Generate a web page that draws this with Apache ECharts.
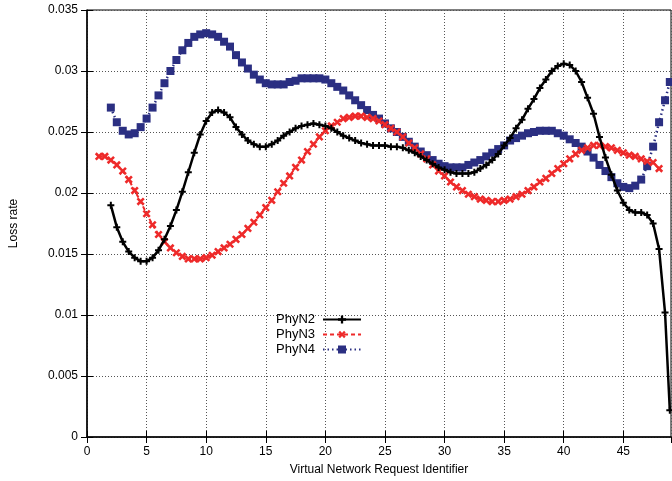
<!DOCTYPE html>
<html style="height: 100%">
<head>
  <meta charset="utf-8">
</head>
<body style="height: 100%; margin: 0; background: #fff">
  <div id="container" style="width: 672px; height: 481px"></div>
  <script type="text/javascript" src="https://cdn.jsdelivr.net/npm/echarts@6/dist/echarts.min.js"></script>
  <script>
// sample positions: 0.5 apart, plus the last sample where a curve leaves the frame
function xs(from, to, extra) {
  var out = [];
  for (var x = from; x <= to + 1e-9; x += 0.5) out.push(x);
  if (extra !== undefined) out.push(extra);
  return out;
}
var xPhyN2 = xs(2, 48.5, 48.9);
var xPhyN3 = xs(1, 48);
var xPhyN4 = xs(2, 48.5, 48.9);

var phyN2 = [
  0.0190, 0.0172, 0.0160, 0.0152, 0.0147, 0.0144, 0.0144, 0.0147, 0.0153, 0.0162,
  0.0173, 0.0186, 0.0201, 0.0217, 0.0233, 0.0248, 0.0259, 0.0266, 0.0268, 0.0266,
  0.0262, 0.0254, 0.0248, 0.0243, 0.0240, 0.0238, 0.0238, 0.0240, 0.0243, 0.0247,
  0.0250, 0.0253, 0.0255, 0.0256, 0.0257, 0.0256, 0.0255, 0.0253, 0.0250, 0.0247,
  0.0245, 0.0243, 0.0241, 0.0240, 0.0239, 0.0239, 0.0239, 0.0238, 0.0238, 0.0237,
  0.0235, 0.0233, 0.0230, 0.0227, 0.0224, 0.0221, 0.0219, 0.0217, 0.0216, 0.0216,
  0.0216, 0.0217, 0.0220, 0.0223, 0.0227, 0.0232, 0.0239, 0.0245, 0.0253, 0.0260,
  0.0269, 0.0277, 0.0286, 0.0293, 0.0300, 0.0304, 0.0306, 0.0305, 0.0300, 0.0291,
  0.0278, 0.0265, 0.0246, 0.0229, 0.0215, 0.0202, 0.0192, 0.0186, 0.0184, 0.0184,
  0.0182, 0.0175, 0.0154, 0.0102, 0.0022
];
var phyN3 = [
  0.0230, 0.0230, 0.0227, 0.0223, 0.0218, 0.0211, 0.0202, 0.0193, 0.0183, 0.0174,
  0.0166, 0.0160, 0.0155, 0.0151, 0.0148, 0.0146, 0.0146, 0.0146, 0.0147, 0.0149,
  0.0152, 0.0155, 0.0158, 0.0162, 0.0166, 0.0171, 0.0176, 0.0182, 0.0188, 0.0194,
  0.0201, 0.0208, 0.0214, 0.0221, 0.0227, 0.0234, 0.0240, 0.0246, 0.0251, 0.0255,
  0.0258, 0.0261, 0.0262, 0.0263, 0.0263, 0.0262, 0.0261, 0.0259, 0.0256, 0.0253,
  0.0250, 0.0246, 0.0241, 0.0237, 0.0232, 0.0228, 0.0223, 0.0218, 0.0214, 0.0209,
  0.0205, 0.0202, 0.0199, 0.0197, 0.0195, 0.0194, 0.0193, 0.0193, 0.0194, 0.0195,
  0.0197, 0.0199, 0.0202, 0.0205, 0.0209, 0.0212, 0.0216, 0.0220, 0.0224, 0.0228,
  0.0232, 0.0235, 0.0237, 0.0239, 0.0239, 0.0238, 0.0237, 0.0235, 0.0233, 0.0231,
  0.0230, 0.0228, 0.0226, 0.0225, 0.0220
];
var phyN4 = [
  0.0270, 0.0258, 0.0251, 0.0248, 0.0249, 0.0254, 0.0261, 0.0270, 0.0280, 0.0290,
  0.0300, 0.0309, 0.0317, 0.0323, 0.0328, 0.0330, 0.0331, 0.0330, 0.0328, 0.0324,
  0.0320, 0.0313, 0.0307, 0.0302, 0.0297, 0.0293, 0.0290, 0.0289, 0.0289, 0.0289,
  0.0291, 0.0292, 0.0294, 0.0294, 0.0294, 0.0294, 0.0293, 0.0290, 0.0287, 0.0284,
  0.0280, 0.0276, 0.0272, 0.0268, 0.0264, 0.0261, 0.0257, 0.0253, 0.0250, 0.0246,
  0.0242, 0.0238, 0.0234, 0.0231, 0.0227, 0.0224, 0.0222, 0.0221, 0.0221, 0.0221,
  0.0223, 0.0225, 0.0227, 0.0230, 0.0233, 0.0236, 0.0239, 0.0243, 0.0245, 0.0247,
  0.0249, 0.0250, 0.0251, 0.0251, 0.0251, 0.0249, 0.0247, 0.0244, 0.0241, 0.0238,
  0.0234, 0.0229, 0.0223, 0.0218, 0.0213, 0.0208, 0.0205, 0.0204, 0.0206, 0.0211,
  0.0222, 0.0238, 0.0258, 0.0276, 0.0291
];

function pairs(x, y) {
  return y.map(function (v, i) { return [x[i], v]; });
}

var plus = 'path://M0,2.5 H2.5 V0 H4.5 V2.5 H7 V4.5 H4.5 V7 H2.5 V4.5 H0 Z';
var font = 'Liberation Sans';

var chart = echarts.init(document.getElementById('container'), null, { renderer: 'canvas' });

var option = {
  animation: false,
  textStyle: { fontFamily: font },
  grid: { left: 84, right: 1, top: 10, bottom: 43, show: true, borderColor: '#000', borderWidth: 1 },
  legend: {
    orient: 'vertical',
    left: 276,
    top: 313,
    padding: 0,
    itemGap: 2,
    itemWidth: 38,
    itemHeight: 10,
    align: 'right',
    textStyle: { fontFamily: font, fontSize: 13, color: '#000', padding: [0, 3, 0, 0] },
    data: ['PhyN2', 'PhyN3', 'PhyN4']
  },
  xAxis: [{
    type: 'value',
    min: 0, max: 49, interval: 5,
    name: 'Virtual Network Request Identifier',
    nameLocation: 'middle',
    nameGap: 27,
    nameTextStyle: { fontFamily: font, fontSize: 12, color: '#000' },
    axisLine: { lineStyle: { color: '#000', width: 1.5 } },
    axisTick: { inside: true, length: 6, lineStyle: { color: '#000' } },
    axisLabel: { fontFamily: font, fontSize: 12, color: '#000', margin: 9, showMaxLabel: false },
    splitLine: { show: true, lineStyle: { color: '#555', type: [1, 2], width: 1 } }
  }, {
    type: 'value', position: 'top',
    min: 0, max: 49, interval: 5,
    axisLine: { show: false },
    axisTick: { inside: true, length: 6, lineStyle: { color: '#000' } },
    axisLabel: { show: false },
    splitLine: { show: false }
  }],
  yAxis: [{
    type: 'value',
    min: 0, max: 0.035, interval: 0.005,
    name: 'Loss rate',
    nameLocation: 'middle',
    nameRotate: 90,
    nameGap: 67,
    nameTextStyle: { fontFamily: font, fontSize: 12, color: '#000' },
    axisLine: { show: true, lineStyle: { color: '#000', width: 1.5 } },
    axisTick: { show: true, inside: true, length: 6, lineStyle: { color: '#000' } },
    axisLabel: { fontFamily: font, fontSize: 12, color: '#000', margin: 9 },
    splitLine: { show: true, lineStyle: { color: '#555', type: [1, 2], width: 1 } }
  }, {
    type: 'value', position: 'right',
    min: 0, max: 0.035, interval: 0.005,
    axisLine: { show: false },
    axisTick: { show: true, inside: true, length: 6, lineStyle: { color: '#000' } },
    axisLabel: { show: false },
    splitLine: { show: false }
  }],
  series: [
    {
      name: 'PhyN2',
      type: 'line',
      data: pairs(xPhyN2, phyN2),
      symbol: plus,
      symbolSize: 7,
      showAllSymbol: true,
      itemStyle: { color: '#000' },
      lineStyle: { color: '#000', width: 2.5 },
      z: 4
    },
    {
      name: 'PhyN3',
      type: 'line',
      data: pairs(xPhyN3, phyN3),
      symbol: plus,
      symbolSize: 9,
      symbolRotate: 45,
      showAllSymbol: true,
      itemStyle: { color: '#ee2a2a' },
      lineStyle: { color: '#ee2a2a', width: 2, type: [4, 3] },
      z: 3
    },
    {
      name: 'PhyN4',
      type: 'line',
      data: pairs(xPhyN4, phyN4),
      symbol: 'rect',
      symbolSize: 8,
      showAllSymbol: true,
      itemStyle: { color: '#2b2f82' },
      lineStyle: { color: '#2b2f82', width: 2.5, type: [1.5, 3] },
      z: 2
    }
  ]
};

chart.setOption(option);
window.addEventListener('resize', chart.resize);
  </script>
</body>
</html>
